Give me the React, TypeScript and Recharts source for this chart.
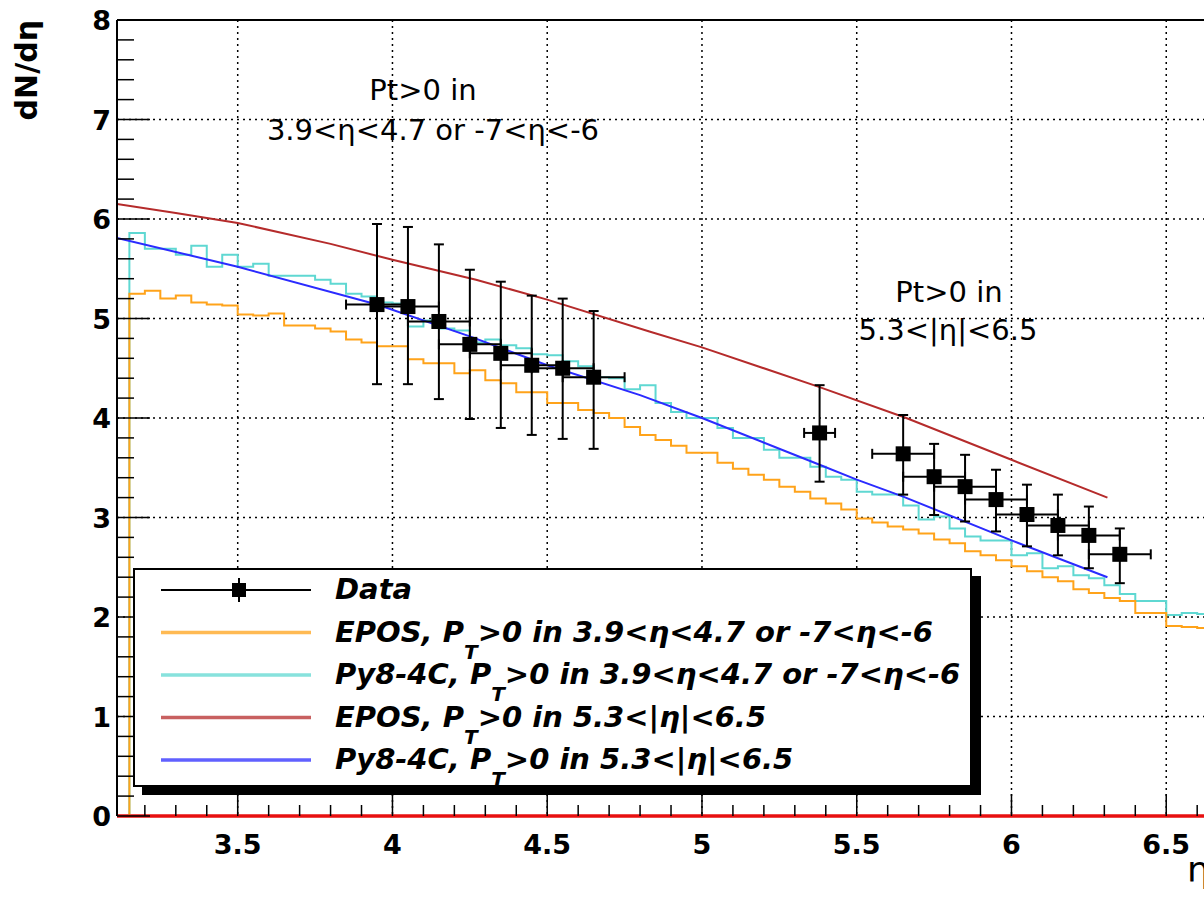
import React from 'react';
import {
  ComposedChart, Line, Scatter, ErrorBar, XAxis, YAxis, CartesianGrid,
  ReferenceLine, Legend,
} from 'recharts';

// measured points (eta, dN/deta) with asymmetric vertical errors
const dataEta = [3.95, 4.05, 4.15, 4.25, 4.35, 4.45, 4.55, 4.65, 5.38, 5.65, 5.75, 5.85, 5.95, 6.05, 6.15, 6.25, 6.35];
const dataVal = [5.14, 5.12, 4.97, 4.74, 4.65, 4.53, 4.50, 4.41, 3.85, 3.64, 3.41, 3.31, 3.18, 3.03, 2.92, 2.82, 2.63];
const dataErrLow = [0.80, 0.78, 0.78, 0.75, 0.75, 0.70, 0.71, 0.72, 0.49, 0.41, 0.385, 0.35, 0.32, 0.32, 0.30, 0.33, 0.29];
const dataErrHigh = [0.81, 0.80, 0.775, 0.75, 0.72, 0.70, 0.70, 0.665, 0.48, 0.39, 0.33, 0.32, 0.30, 0.30, 0.31, 0.29, 0.26];
const dataEtaErr = [0.1, 0.1, 0.1, 0.1, 0.1, 0.1, 0.1, 0.1, 0.05, 0.1, 0.1, 0.1, 0.1, 0.1, 0.1, 0.1, 0.1];

// histograms, bins of 0.05 starting at eta = 3.10
const histStart = 3.10;
const histBin = 0.05;
const eposHist = [0, 5.25, 5.28, 5.20, 5.23, 5.16, 5.14, 5.13, 5.04, 5.03, 5.05, 4.93, 4.93, 4.90, 4.87, 4.79, 4.76, 4.72, 4.72,
  4.59, 4.55, 4.55, 4.45, 4.48, 4.38, 4.35, 4.26, 4.26, 4.15, 4.15, 4.08, 4.05, 4.00, 3.91, 3.83, 3.78, 3.72, 3.65, 3.65,
  3.55, 3.49, 3.43, 3.38, 3.31, 3.26, 3.19, 3.14, 3.08, 2.99, 2.95, 2.91, 2.88, 2.84, 2.78, 2.74, 2.66, 2.62, 2.57, 2.51,
  2.46, 2.40, 2.36, 2.28, 2.24, 2.19, 2.16, 2.04, 2.04, 1.91, 1.90, 1.89];
const py8Hist = [0, 5.86, 5.70, 5.70, 5.64, 5.73, 5.52, 5.64, 5.52, 5.55, 5.43, 5.43, 5.43, 5.39, 5.35, 5.25, 5.22, 5.16, 5.15,
  4.92, 4.98, 4.90, 4.88, 4.76, 4.79, 4.73, 4.70, 4.64, 4.63, 4.57, 4.52, 4.41, 4.40, 4.29, 4.33, 4.15, 4.06, 4.00, 4.00,
  3.90, 3.80, 3.80, 3.68, 3.60, 3.60, 3.51, 3.41, 3.38, 3.26, 3.23, 3.23, 3.12, 2.98, 3.01, 2.89, 2.81, 2.77, 2.77, 2.62,
  2.64, 2.49, 2.51, 2.42, 2.39, 2.32, 2.23, 2.16, 2.16, 2.02, 2.04, 2.03];

// smooth curves for 5.3<|eta|<6.5
const eposLineEta = [3.11, 3.30, 3.50, 3.80, 4.00, 4.27, 4.50, 4.83, 5.00, 5.38, 5.66, 6.00, 6.31];
const eposLineVal = [6.15, 6.06, 5.96, 5.75, 5.59, 5.39, 5.19, 4.87, 4.71, 4.31, 4.00, 3.58, 3.20];
const py8LineEta = [3.11, 3.50, 3.95, 4.25, 4.50, 4.80, 5.00, 5.38, 5.50, 5.65, 6.00, 6.31];
const py8LineVal = [5.81, 5.52, 5.14, 4.82, 4.53, 4.23, 4.00, 3.53, 3.38, 3.21, 2.77, 2.40];

const xMajor = [3.5, 4, 4.5, 5, 5.5, 6, 6.5];
const yMajor = [0, 1, 2, 3, 4, 5, 6, 7, 8];
const yGridVals = [1, 2, 3, 4, 5, 6, 7];

const xTicks = Array.from({ length: 35 }, (_, i) => Math.round((3.2 + i * 0.1) * 10) / 10);
const yTicks = Array.from({ length: 41 }, (_, i) => Math.round(i * 0.2 * 10) / 10);

const ORANGE = '#ffa31a';
const CYAN = '#5fd8d2';
const RED = '#b52b2b';
const BLUE = '#2b2bff';

const toHist = (vals: number[]) => {
  const pts = vals.map((v, i) => ({ x: +(histStart + i * histBin).toFixed(2), y: v }));
  pts.push({ x: +(histStart + vals.length * histBin).toFixed(2), y: vals[vals.length - 1] });
  return pts;
};
const toLine = (xs: number[], ys: number[]) => xs.map((x, i) => ({ x, y: ys[i] }));

const eposHistData = toHist(eposHist);
const py8HistData = toHist(py8Hist);
const eposLineData = toLine(eposLineEta, eposLineVal);
const py8LineData = toLine(py8LineEta, py8LineVal);
const pointData = dataEta.map((x, i) => ({
  x, y: dataVal[i], ey: [dataErrLow[i], dataErrHigh[i]], ex: dataEtaErr[i],
}));

const tickFont = { fontFamily: 'DejaVu Sans', fontWeight: 'bold' as const, fontSize: 27, fill: '#000' };

const XTick = (props: any) => {
  const { x, y, payload } = props;
  const v = payload.value;
  const major = xMajor.some(m => Math.abs(m - v) < 1e-6);
  return (
    <g>
      <line x1={x} x2={x} y1={y} y2={y - (major ? 22 : 11)} stroke="#000" strokeWidth={1.5} />
      {major && <text x={x} y={y + 38} textAnchor="middle" {...tickFont}>{String(v)}</text>}
    </g>
  );
};

const YTick = (props: any) => {
  const { x, y, payload } = props;
  const v = payload.value;
  const major = yMajor.some(m => Math.abs(m - v) < 1e-6);
  return (
    <g>
      <line x1={x} x2={x + (major ? 33 : 17)} y1={y} y2={y} stroke="#000" strokeWidth={1.5} />
      {major && <text x={x - 6} y={y + 10} textAnchor="end" {...tickFont}>{String(v)}</text>}
    </g>
  );
};

const Square = (props: any) => {
  const { cx, cy } = props;
  return <rect x={cx - 7.5} y={cy - 7.5} width={15} height={15} fill="#000" />;
};

const legendRows = [
  { kind: 'data', pre: 'Data', sub: '', post: '', color: '#000' },
  { kind: 'line', pre: 'EPOS, P', sub: 'T', post: '>0 in 3.9<η<4.7 or -7<η<-6', color: ORANGE },
  { kind: 'line', pre: 'Py8-4C, P', sub: 'T', post: '>0 in 3.9<η<4.7 or -7<η<-6', color: CYAN },
  { kind: 'line', pre: 'EPOS, P', sub: 'T', post: '>0 in 5.3<|η|<6.5', color: RED },
  { kind: 'line', pre: 'Py8-4C, P', sub: 'T', post: '>0 in 5.3<|η|<6.5', color: BLUE },
];

const LegendBox = () => (
  <div style={{
    width: 839, height: 219, boxSizing: 'border-box', border: '2px solid #000',
    background: '#fff', boxShadow: '9px 8px 0 #000',
  }}>
    <svg width={835} height={215}>
      {legendRows.map((r, i) => {
        const ly = 20 + i * 42.5;
        return (
          <g key={i}>
            <line x1={26} x2={176} y1={ly} y2={ly} stroke={r.color} strokeWidth={r.kind === 'data' ? 2 : 3.5}
              strokeOpacity={r.kind === 'data' ? 1 : 0.75} />
            {r.kind === 'data' && (
              <g>
                <line x1={104} x2={104} y1={ly - 12} y2={ly + 12} stroke="#000" strokeWidth={2} />
                <rect x={97} y={ly - 7} width={14} height={14} fill="#000" />
              </g>
            )}
            <text x={200} y={ly + 9} fontFamily="DejaVu Sans" fontStyle="italic" fontWeight="bold" fontSize={29} fill="#000">
              {r.pre}
              {r.sub && <tspan dy={17} fontSize={20}>{r.sub}</tspan>}
              {r.sub && <tspan dy={-17}>{r.post}</tspan>}
            </text>
          </g>
        );
      })}
    </svg>
  </div>
);

const noteFont = { fontFamily: 'DejaVu Sans', fontSize: 29, fill: '#000' };

export default function App() {
  return (
    <div style={{ position: 'absolute', left: 0, top: 0, background: '#fff' }}>
      <ComposedChart width={1204} height={901} margin={{ top: 20, right: 0, left: 0, bottom: 0 }}>
        <CartesianGrid horizontalValues={yGridVals} verticalValues={xMajor}
          stroke="#000" strokeWidth={1.5} strokeDasharray="2 4" />
        <XAxis type="number" dataKey="x" domain={[3.11, 6.622]} allowDataOverflow ticks={xTicks}
          interval={0} height={85} tickSize={0} tickMargin={0} tick={<XTick />}
          axisLine={{ stroke: '#e81010', strokeWidth: 3 }} />
        <YAxis type="number" domain={[0, 8]} allowDataOverflow ticks={yTicks} interval={0}
          width={117} tickSize={0} tickMargin={0} tick={<YTick />}
          axisLine={{ stroke: '#000', strokeWidth: 2 }} />
        <ReferenceLine y={8} stroke="#000" strokeWidth={2} />
        <ReferenceLine y={0} stroke="#e81010" strokeWidth={3} />
        <Line data={py8HistData} dataKey="y" type="stepAfter" stroke={CYAN} strokeWidth={2}
          dot={false} activeDot={false} isAnimationActive={false} />
        <Line data={eposHistData} dataKey="y" type="stepAfter" stroke={ORANGE} strokeWidth={2}
          dot={false} activeDot={false} isAnimationActive={false} />
        <Line data={eposLineData} dataKey="y" type="linear" stroke={RED} strokeWidth={2}
          dot={false} activeDot={false} isAnimationActive={false} />
        <Line data={py8LineData} dataKey="y" type="linear" stroke={BLUE} strokeWidth={2}
          dot={false} activeDot={false} isAnimationActive={false} />
        <Scatter data={pointData} dataKey="y" shape={<Square />} isAnimationActive={false}>
          <ErrorBar dataKey="ey" direction="y" width={5} stroke="#000" strokeWidth={2} />
          <ErrorBar dataKey="ex" direction="x" width={5} stroke="#000" strokeWidth={2} />
        </Scatter>
        <Legend content={() => <LegendBox />} verticalAlign="middle" align="center" layout="horizontal"
          wrapperStyle={{ left: 133, top: 568, width: 848, height: 228 }} />
        <g>
          <text x={423} y={100} textAnchor="middle" {...noteFont}>Pt&gt;0 in</text>
          <text x={433} y={140} textAnchor="middle" {...noteFont}>3.9&lt;η&lt;4.7 or -7&lt;η&lt;-6</text>
          <text x={949} y={302} textAnchor="middle" {...noteFont}>Pt&gt;0 in</text>
          <text x={948} y={340} textAnchor="middle" {...noteFont}>5.3&lt;|η|&lt;6.5</text>
          <text transform="translate(37, 20) rotate(-90)" textAnchor="end"
            fontFamily="DejaVu Sans" fontWeight="bold" fontSize={30} fill="#000">dN/dη</text>
          <text x={1187} y={882} fontFamily="DejaVu Sans" fontSize={36} fill="#000">η</text>
        </g>
      </ComposedChart>
    </div>
  );
}
